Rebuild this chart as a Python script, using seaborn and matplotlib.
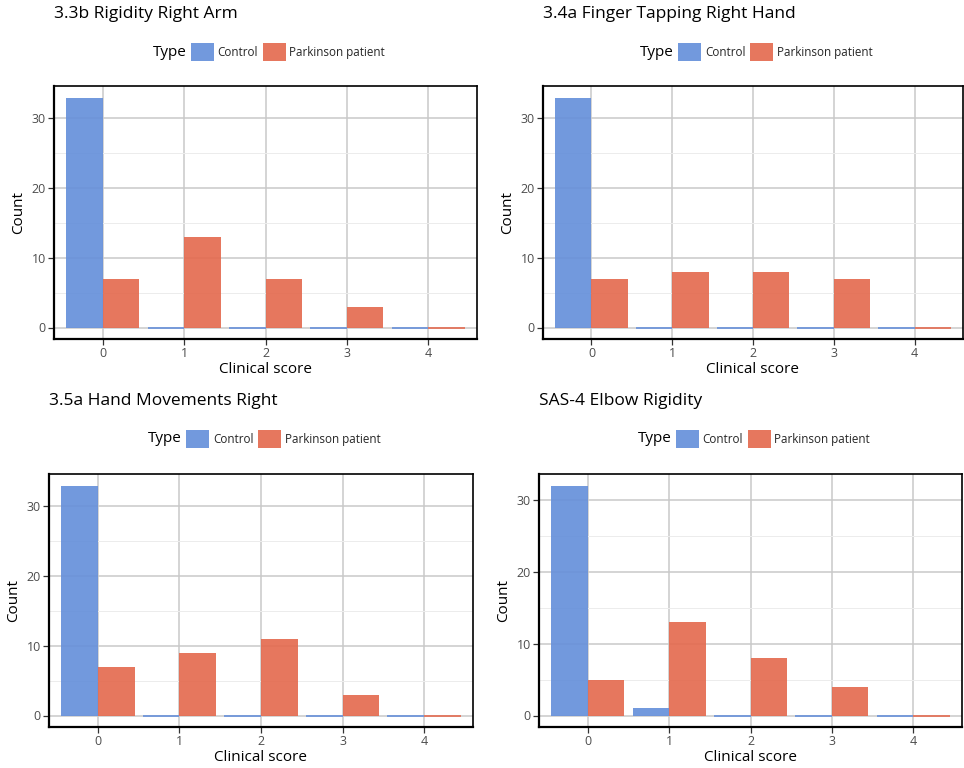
import matplotlib
matplotlib.use("Agg")
import matplotlib.pyplot as plt
from matplotlib.patches import Patch
from matplotlib.ticker import MultipleLocator
import seaborn as sns
import pandas as pd

# ---- data -------------------------------------------------------------
scores = [0, 1, 2, 3, 4]
groups = ["Control", "Parkinson patient"]
titles = [
    "3.3b Rigidity Right Arm",
    "3.4a Finger Tapping Right Hand",
    "3.5a Hand Movements Right",
    "SAS-4 Elbow Rigidity",
]
control_counts = [
    [33, 0, 0, 0, 0],
    [33, 0, 0, 0, 0],
    [33, 0, 0, 0, 0],
    [32, 1, 0, 0, 0],
]
parkinson_counts = [
    [7, 13, 7, 3, 0],
    [7, 8, 8, 7, 0],
    [7, 9, 11, 3, 0],
    [5, 13, 8, 4, 0],
]

palette = {"Control": "#6690da", "Parkinson patient": "#e46b50"}

sns.set_theme(style="white")
plt.rcParams["font.family"] = ["Open Sans", "DejaVu Sans"]

W, H = 964, 768
fig = plt.figure(figsize=(W / 100, H / 100), dpi=100)

# panel boxes in pixels: left, right, top, bottom
boxes = [
    (54, 477, 86, 339),
    (543, 963, 86, 339),
    (49, 473, 474, 727),
    (539, 962, 474, 727),
]
title_y = [14, 14, 401, 401]
legend_y = [52, 52, 439, 439]


def fx(px):
    return px / W


def fy(py):
    return 1 - py / H


for i, (l, r, t, b) in enumerate(boxes):
    ax = fig.add_axes([fx(l), fy(b), fx(r - l), (b - t) / H])

    df = pd.DataFrame({
        "score": scores * 2,
        "Type": [groups[0]] * len(scores) + [groups[1]] * len(scores),
        "count": control_counts[i] + parkinson_counts[i],
    })
    sns.barplot(data=df, x="score", y="count", hue="Type", order=scores,
                hue_order=groups, palette=palette, width=0.9, saturation=1,
                alpha=0.92, linewidth=0, legend=False, ax=ax)
    # zero-count bars still show as a thin line along the baseline
    for p in ax.patches:
        if p.get_height() == 0:
            p.set_edgecolor(p.get_facecolor())
            p.set_linewidth(1.3)

    ymax = max(control_counts[i] + parkinson_counts[i])
    ax.set_ylim(-0.05 * ymax, 1.05 * ymax)
    ax.set_xlim(-0.6, 4.6)
    ax.yaxis.set_major_locator(MultipleLocator(10))
    ax.yaxis.set_minor_locator(MultipleLocator(5))
    ax.set_axisbelow(True)
    ax.grid(which="major", axis="both", color="#c9c9c9", linewidth=1.1)
    ax.grid(which="minor", axis="y", color="#ececec", linewidth=0.7)
    for s in ax.spines.values():
        s.set_color("black")
        s.set_linewidth(1.2)
    ax.spines["left"].set_linewidth(1.6)
    ax.spines["bottom"].set_linewidth(1.6)
    ax.tick_params(axis="both", which="major", length=4, width=0.9,
                   color="#333333", labelsize=9, labelcolor="#4d4d4d", pad=2,
                   left=True, bottom=True)
    ax.tick_params(axis="y", which="minor", length=0)
    ax.set_xlabel("Clinical score", fontsize=11, labelpad=1, color="black")
    ax.set_ylabel("Count", fontsize=11, labelpad=4, color="black")

    fig.text(fx(l), fy(title_y[i]), titles[i], fontsize=12.5,
             ha="left", va="center", color="black")

    cx = (l + r) / 2
    fig.text(fx(cx - 113), fy(legend_y[i]), "Type", fontsize=11,
             ha="left", va="center", color="black")
    handles = [Patch(facecolor=palette[g], alpha=0.92, edgecolor="none") for g in groups]
    fig.legend(handles, groups, loc="center left",
               bbox_to_anchor=(fx(cx - 75), fy(legend_y[i])),
               ncol=2, frameon=False, fontsize=8.4, handlelength=2.0,
               handleheight=2.0, handletextpad=0.3, columnspacing=0.4,
               borderpad=0, borderaxespad=0)

fig.savefig("out.png", dpi=100)
